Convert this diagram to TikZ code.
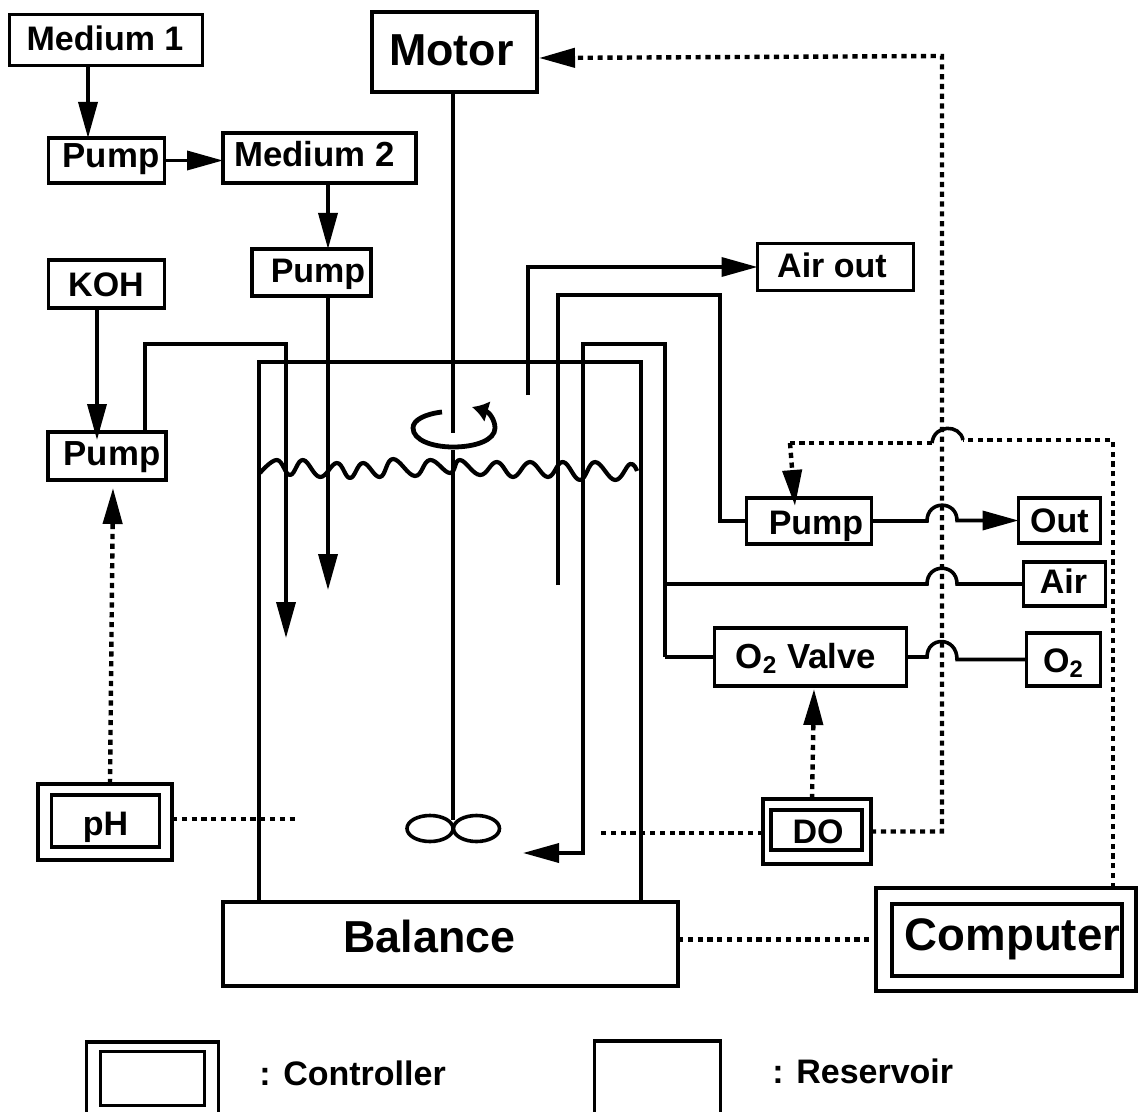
\documentclass[tikz,border=0pt]{standalone}
\usepackage{fontspec}
\setmainfont{Liberation Sans}
\usetikzlibrary{arrows.meta,shapes.geometric}
% text placed with its baseline #2 px below the node centre and its centre #1 px right of it
\newcommand{\lbl}[3]{\raisebox{\dimexpr-#2pt/2\relax}[0pt][0pt]{\makebox[0pt]{\hspace*{#1pt}#3}}}
\tikzset{
  lw/.style={line width=1.8pt},
  box/.style={draw,lw,inner sep=0pt,outer sep=0pt,font=\bfseries\fontsize{17}{20}\selectfont,fill=white},
  midbox/.style={box,font=\bfseries\fontsize{17.4}{20}\selectfont},
  bigbox/.style={box,font=\bfseries\fontsize{22.4}{26}\selectfont},
  pipe/.style={lw,line join=miter},
  flow/.style={pipe,-{Triangle[length=18pt,width=9.5pt]}},
  sig/.style={line width=2.2pt,dash pattern=on 2.6pt off 2.3pt},
  sigflow/.style={sig,-{Triangle[length=18pt,width=9.5pt]}},
  legend/.style={inner sep=0pt,font=\bfseries\fontsize{17}{20}\selectfont}
}
\begin{document}
\begin{tikzpicture}[x=0.5pt,y=-0.5pt]
\useasboundingbox (0,0) rectangle (1139,1112);
\fill[white] (0,0) rectangle (1139,1112);

% vessel
\coordinate (vtl) at (259,362);
\coordinate (vtr) at (641,362);
\node[bigbox,minimum width=227.5pt,minimum height=42pt] (balance) at (450.5,944) {\lbl{-21}{8}{Balance}};
\draw[pipe] (vtl |- balance.north) -- (vtl) -- (vtr) -- (vtr |- balance.north);

% reservoirs
\node[box,minimum width=96.5pt,minimum height=25.5pt] (med1) at (106,40) {\lbl{-1}{11}{Medium 1}};
\node[midbox,minimum width=58pt,minimum height=22.5pt] (pump1) at (106.5,160.5) {\lbl{4.5}{7.5}{Pump}};
\node[midbox,minimum width=96.5pt,minimum height=25pt] (med2) at (319.5,158) {\lbl{-5}{8.5}{Medium 2}};
\node[box,minimum width=59.5pt,minimum height=23.5pt] (pump2) at (311.5,272.5) {\lbl{6.5}{10.5}{Pump}};
\node[box,minimum width=58pt,minimum height=24pt] (koh) at (106.5,284) {\lbl{-0.5}{13}{KOH}};
\node[midbox,minimum width=59pt,minimum height=24pt] (pump3) at (107,456) {\lbl{5}{9}{Pump}};
\node[bigbox,minimum width=82.5pt,minimum height=40pt] (motor) at (454.5,52) {\lbl{-3}{14}{Motor}};
\node[box,minimum width=78pt,minimum height=23.5pt] (airout) at (835.5,267) {\lbl{-3.5}{11}{Air out}};
\node[box,minimum width=62.5pt,minimum height=23pt] (pump4) at (809,521) {\lbl{7}{13}{Pump}};
\node[box,minimum width=41pt,minimum height=22.5pt] (outb) at (1059.5,520.5) {\lbl{0}{11.5}{Out}};
\node[box,minimum width=41pt,minimum height=22pt] (air) at (1064.5,584) {\lbl{-1}{9}{Air}};
\node[midbox,minimum width=96pt,minimum height=29pt] (valve) at (810.5,657) {\lbl{-4.5}{11}{O\textsubscript{2} Valve}};
\node[box,minimum width=37pt,minimum height=26.5pt] (o2) at (1063.5,659.5) {\lbl{0}{12.5}{O\textsubscript{2}}};

% controllers
\node[box,minimum width=67pt,minimum height=38pt] (ph) at (105,822) {};
\node[box,minimum width=54pt,minimum height=26pt] (phi) at (105.5,821) {\lbl{0}{14}{pH}};
\node[box,minimum width=54pt,minimum height=32.5pt] (do) at (817,831.5) {};
\node[box,minimum width=45.5pt,minimum height=20pt] (doi) at (816.5,830) {\lbl{1.5}{13}{DO}};
\node[box,minimum width=130pt,minimum height=51.5pt] (comp) at (1006,939.5) {};
\node[box,font=\bfseries\fontsize{22.8}{26}\selectfont,minimum width=115pt,minimum height=36pt] (compi) at (1007,940) {\lbl{5.5}{10}{Computer}};

% shaft and impeller
\coordinate (shaftstop) at (453,433);
\coordinate (shaftrest) at (453,450);
\node[draw,lw,ellipse,minimum width=23pt,minimum height=13pt,inner sep=0pt] (blade1) at (430,828.5) {};
\node[draw,lw,ellipse,minimum width=23pt,minimum height=13pt,inner sep=0pt] (blade2) at (476.5,828.5) {};
\draw[pipe] (motor.south -| shaftstop) -- (shaftstop);
\draw[pipe] (shaftrest) -- (453,820);

% rotation arrow
\draw[line width=2.4pt,-{Latex[length=8pt,width=11pt]}] (442,412) .. controls (425,414) and (413,420) .. (413,428)
  .. controls (413,440) and (432,447) .. (453,447)
  .. controls (476,447) and (495,440) .. (495,428)
  .. controls (495,420) and (489,412) .. (472,407);

% liquid surface
\draw[line width=2.1pt,line join=round] plot[smooth,tension=0.7] coordinates {(260,473) (277,460) (290,475) (303,460) (320,477) (337,463) (350,478) (363,463) (380,477) (393,459) (415,476) (430,460) (450,473) (460,460) (480,475) (497,462) (513,477) (530,462) (548,477) (563,462) (580,480) (595,462) (615,480) (630,464) (637,471)};

% feed connectors
\draw[flow] ([xshift=-9.25pt]med1.south -| pump1.north) -- ([xshift=-9.25pt]pump1.north);
\draw[flow] (pump1.east) -- (med2.west |- pump1.east);
\draw[flow] ([xshift=8.25pt]med2.south -| pump2.north) -- ([xshift=8.25pt]pump2.north);
\coordinate (p2tip) at (328,590);
\draw[flow] (pump2.south -| p2tip) -- (p2tip);
\draw[flow] ([xshift=-4.75pt]koh.south) -- ([xshift=-5pt,yshift=-4pt]pump3.north);
\coordinate (p3up) at (145,344);
\coordinate (p3tip) at (286,638);
\draw[flow] (pump3.north -| p3up) -- (p3up) -- (p3up -| p3tip) -- (p3tip);

% gas lines
\coordinate (gasstart) at (528,395);
\draw[flow] (gasstart) -- (gasstart |- airout.west) -- (airout.west);
\coordinate (dip) at (558,585);
\coordinate (dipcorner) at (720,295);
\draw[pipe] (dip) -- (dip |- dipcorner) -- (dipcorner) -- (dipcorner |- pump4.west) -- (pump4.west);
\coordinate (sparge) at (523,853);
\coordinate (spup) at (583,344);
\coordinate (spright) at (665,344);
\draw[flow] (spright |- valve.west) -- (spright) -- (spup) -- (spup |- sparge) -- (sparge);
\draw[pipe] (spright |- valve.west) -- (valve.west);
\draw[pipe] (spright |- air.west) -- (927,584) .. controls (927,563) and (957,563) .. (957,584) -- (air.west);
\draw[pipe] (valve.east) -- (927,657) .. controls (927,636) and (957,636) .. (957,659.5) -- (o2.west);
\draw[flow] (pump4.east) -- (927,521) .. controls (927,500) and (957,500) .. (957,520.5) -- (outb.west);

% signals
\coordinate (sigtop) at (942,56);
\coordinate (motortip) at (539,58);
\draw[sigflow] (do.east) -- (do.east -| sigtop) -- (sigtop) -- (motortip);
\coordinate (phend) at (297,819);
\draw[sig] (ph.east |- phend) -- (phend);
\coordinate (doend) at (600,833);
\draw[sig] (do.west |- doend) -- (doend);
\draw[sig] (balance.east |- comp.west) -- (comp.west);
\coordinate (phtip) at (113,488);
\draw[sigflow] (ph.north -| 110,0) -- (phtip);
\coordinate (dotip) at (814,689);
\draw[sigflow] (do.north -| 812,0) -- (dotip);
\coordinate (cup) at (1113,440);
\coordinate (hopr) at (963,440);
\coordinate (hopl) at (932,443);
\coordinate (pcorner) at (790,443);
\draw[sig] (comp.north -| cup) -- (cup) -- (hopr);
\draw[pipe] (hopr) .. controls (960,424) and (934,424) .. (hopl);
\draw[sig] (hopl) -- (pcorner);
\draw[sigflow] (pcorner) -- ([xshift=-7pt,yshift=-4pt]pump4.north);

% legend
\node[draw,lw,inner sep=0pt,minimum width=66pt,minimum height=39pt] (lega) at (152.5,1081) {};
\node[draw,lw,inner sep=0pt,minimum width=52pt,minimum height=27pt] (legb) at (152.5,1078.5) {};
\node[legend,anchor=west] (legc) at (259,1073) {: Controller};
\node[draw,lw,inner sep=0pt,minimum width=63pt,minimum height=39.5pt] (legd) at (657.5,1080.5) {};
\node[legend,anchor=west] (lege) at (772,1071) {: Reservoir};
\end{tikzpicture}
\end{document}
